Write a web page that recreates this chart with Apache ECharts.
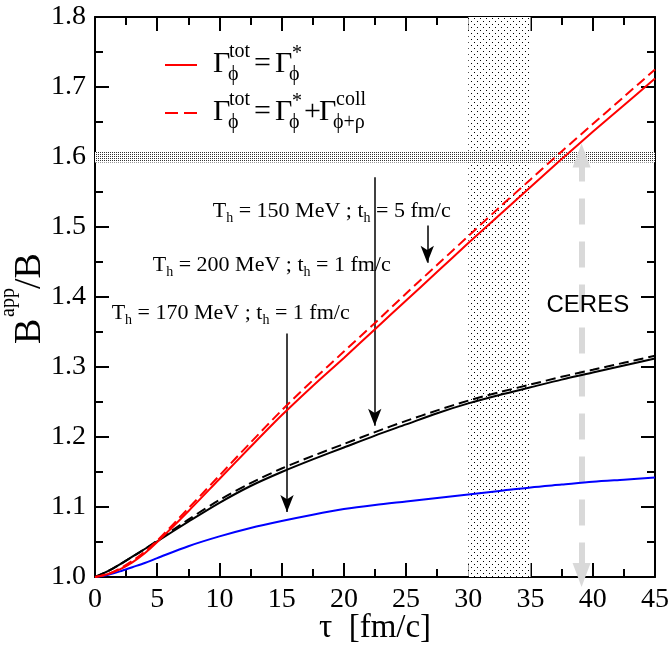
<!DOCTYPE html>
<html><head><meta charset="utf-8">
<script src="https://cdn.jsdelivr.net/npm/echarts@6/dist/echarts.min.js"></script>
<style>html,body{margin:0;padding:0;background:#fff}#c{width:672px;height:646px}</style>
</head><body><div id="c"></div>
<script>
// ---- data ----
const tau = [0,1,2,3,4,5,7.5,10,12.5,15,17.5,20,22.5,25,27.5,30,32.5,35,37.5,40,42.5,45];
const red150Solid  = [1.000,1.004,1.011,1.021,1.034,1.050,1.094,1.140,1.186,1.231,1.273,1.313,1.354,1.395,1.436,1.477,1.517,1.557,1.597,1.636,1.674,1.712];
const red150Dashed = [1.000,1.004,1.012,1.023,1.036,1.052,1.098,1.145,1.192,1.238,1.281,1.322,1.363,1.405,1.446,1.487,1.528,1.568,1.608,1.647,1.686,1.725];
const black200Solid  = [1.000,1.008,1.018,1.029,1.040,1.051,1.079,1.106,1.130,1.150,1.168,1.185,1.202,1.218,1.234,1.248,1.260,1.271,1.282,1.292,1.302,1.312];
const black200Dashed = [1.000,1.008,1.018,1.029,1.040,1.052,1.082,1.110,1.134,1.155,1.173,1.190,1.207,1.223,1.238,1.252,1.264,1.275,1.286,1.296,1.306,1.316];
const blue170 = [1.000,1.003,1.008,1.014,1.020,1.027,1.044,1.058,1.070,1.080,1.089,1.097,1.103,1.108,1.113,1.118,1.123,1.128,1.132,1.136,1.139,1.142];

const xTicks = {min:0, max:45, interval:5};
const yTicks = {min:1.0, max:1.8, interval:0.1};

const tauBand = [30, 35];          // shaded time window
const ceresBand = [1.592, 1.607];  // CERES value band
const ceresArrow = {tau:39.1, from:1.602, to:1.003};

// annotation labels [tau, value, text-key]
const annotLabels = [
  [9.46, 1.522, 'a150'],
  [4.64, 1.445, 'a200'],
  [1.34, 1.377, 'a170']
];
// annotation arrows [tau, from, to]
const annotArrows = [
  [26.7, 1.502, 1.449],
  [22.48, 1.571, 1.216],
  [15.43, 1.348, 1.093]
];
const ceresLabel = [39.6, 1.388];

// ---- helpers ----
const pair = (ys) => tau.map((t,i)=>[t, ys[i]]);
function dotPattern(size, pts, color){
  const c = document.createElement('canvas');
  c.width = c.height = size;
  const g = c.getContext('2d');
  g.fillStyle = '#fff'; g.fillRect(0,0,size,size);
  g.fillStyle = color;
  pts.forEach(p => g.fillRect(p[0], p[1], 1, 1));
  return c;
}
const vPattern = dotPattern(6, [[0,0],[3,3]], '#000');
const hPattern = dotPattern(2, [[0,0]], '#333');

const SERIF = 'Liberation Serif';
const rich = {
  t: {fontFamily: SERIF, fontSize: 22, lineHeight: 28, color:'#000'},
  s: {fontFamily: SERIF, fontSize: 14, lineHeight: 8, verticalAlign:'bottom', color:'#000'}
};
const annotText = {
  a150: '{t|T}{s|h}{t| = 150 MeV ; t}{s|h}{t| = 5 fm/c}',
  a200: '{t|T}{s|h}{t| = 200 MeV ; t}{s|h}{t| = 1 fm/c}',
  a170: '{t|T}{s|h}{t| = 170 MeV ; t}{s|h}{t| = 1 fm/c}'
};

function axisCommon(showLabel){
  return {
    axisLine: {show:true, onZero:false, lineStyle:{color:'#000', width:2}},
    axisTick: {show:true, inside:true, length:14, lineStyle:{color:'#000', width:2}},
    minorTick: {show:true, splitNumber:2, length:8, lineStyle:{color:'#000', width:2}},
    splitLine: {show:false},
    axisLabel: {show:showLabel, color:'#000', fontFamily:SERIF, fontSize:28, margin:9}
  };
}

// legend and y title built from graphic text
const G = [];
function txt(x, y, s, fs, rot){
  G.push({type:'text', x:x, y:y, rotation: rot || 0, silent:true, z:100,
    style:{text:s, fill:'#000', font: fs+'px "'+SERIF+'"', textAlign:'left', textVerticalAlign:'middle'}});
}
[0, 48].forEach((dy, row) => {
  const ly = 65 + dy;
  if (row === 0) {
    G.push({type:'line', shape:{x1:165,y1:ly,x2:197,y2:ly}, style:{stroke:'#f00', lineWidth:2}, silent:true});
  } else {
    G.push({type:'line', shape:{x1:165,y1:ly,x2:178,y2:ly}, style:{stroke:'#f00', lineWidth:2}, silent:true});
    G.push({type:'line', shape:{x1:184,y1:ly,x2:197,y2:ly}, style:{stroke:'#f00', lineWidth:2}, silent:true});
  }
  txt(213, 64+dy, 'Γ', 30);
  txt(229, 52+dy, 'tot', 20);
  txt(228, 75+dy, 'ϕ', 20);
  txt(254, 64+dy, '=', 30);
  txt(275, 64+dy, 'Γ', 30);
  txt(292, 54+dy, '*', 20);
  txt(289, 75+dy, 'ϕ', 20);
  if (row === 1) {
    txt(304, 64+dy, '+', 30);
    txt(319, 64+dy, 'Γ', 30);
    txt(336, 52+dy, 'coll', 20);
    txt(333, 75+dy, 'ϕ+ρ', 20);
  }
});
// y-axis title  B^app/B  (rotated, reading bottom to top)
const R = Math.PI/2;
txt(30, 344, 'B', 38, R);
txt(9, 317, 'app', 20, R);
txt(30, 289, '/B', 38, R);

const chart = echarts.init(document.getElementById('c'), null, {renderer:'canvas'});
chart.setOption({
  animation:false,
  backgroundColor:'#fff',
  grid:{left:95, right:17, top:17, bottom:69, containLabel:false, outerBoundsMode:'none'},
  xAxis:[
    Object.assign({type:'value', position:'bottom', min:xTicks.min, max:xTicks.max, interval:xTicks.interval,
      name:'τ  [fm/c]', nameLocation:'middle', nameGap:35, nameMoveOverlap:false,
      nameTextStyle:{fontFamily:SERIF, fontSize:33, color:'#000', verticalAlign:'top'}}, axisCommon(true)),
    Object.assign({type:'value', position:'top', min:xTicks.min, max:xTicks.max, interval:xTicks.interval}, axisCommon(false))
  ],
  yAxis:[
    Object.assign({type:'value', position:'left', min:yTicks.min, max:yTicks.max, interval:yTicks.interval}, axisCommon(true)),
    Object.assign({type:'value', position:'right', min:yTicks.min, max:yTicks.max, interval:yTicks.interval}, axisCommon(false))
  ],
  series:[
    {type:'line', name:'bands', data:[], silent:true, z:1,
      markArea:{silent:true, data:[
        [{xAxis:tauBand[0], itemStyle:{color:{image:vPattern, repeat:'repeat'}}},{xAxis:tauBand[1]}],
        [{yAxis:ceresBand[0], itemStyle:{color:{image:hPattern, repeat:'repeat'}}},{yAxis:ceresBand[1]}]
      ]}},
    {type:'line', name:'ceres', data:[], silent:true, z:4,
      markLine:{silent:true, symbol:['triangle','triangle'], symbolSize:[18,24], label:{show:false},
        lineStyle:{color:'#d9d9d9', width:6, type:[26,17]},
        data:[[{coord:[ceresArrow.tau, ceresArrow.from]},{coord:[ceresArrow.tau, ceresArrow.to]}]]}},
    {type:'line', data:pair(blue170), smooth:0.3, showSymbol:false, z:5, lineStyle:{color:'#0000ff', width:2}},
    {type:'line', data:pair(black200Dashed), smooth:0.3, showSymbol:false, z:5, lineStyle:{color:'#000', width:2, type:[10,5]}},
    {type:'line', data:pair(black200Solid), smooth:0.3, showSymbol:false, z:5, lineStyle:{color:'#000', width:2}},
    {type:'line', data:pair(red150Dashed), smooth:0.3, showSymbol:false, z:5, lineStyle:{color:'#ff0000', width:2, type:[10,5]}},
    {type:'line', data:pair(red150Solid), smooth:0.3, showSymbol:false, z:5, lineStyle:{color:'#ff0000', width:2}},
    {type:'scatter', symbolSize:0, silent:true, z:6, itemStyle:{opacity:1},
      data: annotLabels.map(a => ({value:[a[0], a[1]], label:{formatter: annotText[a[2]]}})),
      label:{show:true, position:'right', distance:0, opacity:1, color:'#000', rich:rich},
      markLine:{silent:true, symbol:['none','arrow'], symbolSize:[10,17], label:{show:false},
        lineStyle:{color:'#000', width:1.5, type:'solid', opacity:1},
        data: annotArrows.map(a => [{coord:[a[0], a[1]]},{coord:[a[0], a[2]]}])}},
    {type:'scatter', symbolSize:0, silent:true, z:7, itemStyle:{opacity:1},
      data:[ceresLabel],
      label:{show:true, position:'inside', formatter:'CERES', opacity:1, color:'#000', fontFamily:'Liberation Sans', fontSize:24}}
  ],
  graphic: G
});
chart.setOption({yAxis:[{axisLabel:{formatter:(v)=>v.toFixed(1)}},{}]});
</script></body></html>
